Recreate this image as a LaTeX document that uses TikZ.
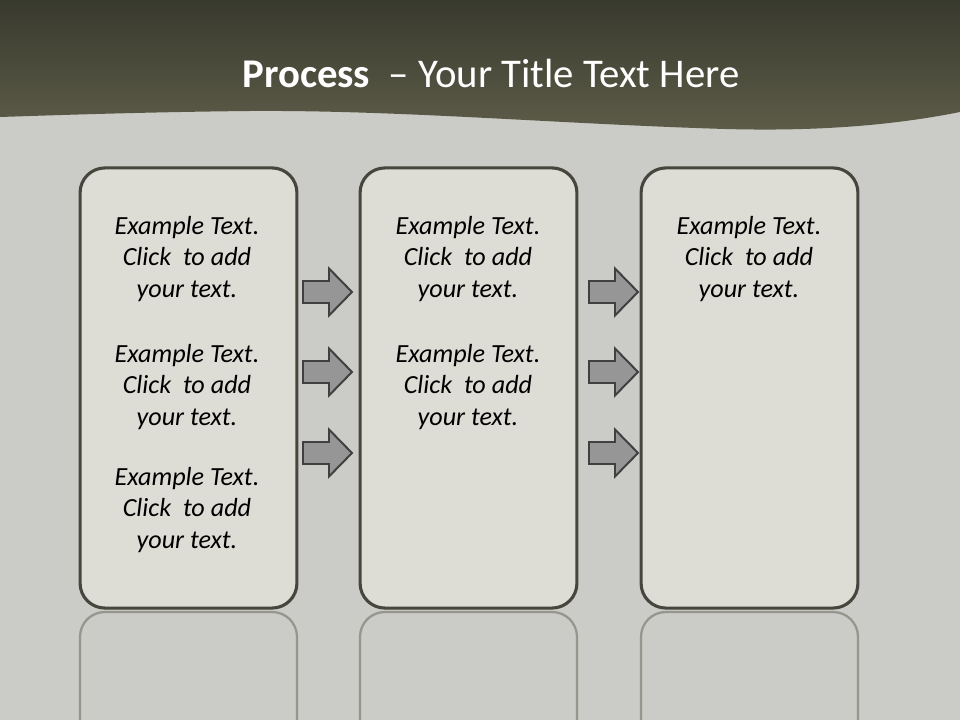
\documentclass[tikz,border=0pt]{standalone}
\usepackage{fontspec}
\setmainfont{Carlito}
\definecolor{bgGray}{HTML}{CBCBC7}
\definecolor{headTop}{HTML}{393A2E}
\definecolor{headBot}{HTML}{5D5C49}
\definecolor{boxFill}{HTML}{DDDCD5}
\definecolor{boxLine}{HTML}{46463C}
\definecolor{reflLine}{HTML}{96968F}
\definecolor{arrowFill}{HTML}{969696}
\definecolor{arrowLine}{HTML}{404040}

\begin{document}
\begin{tikzpicture}[
    x=0.025cm,y=-0.025cm,
    stage/.style={draw=boxLine,line width=2.2pt,fill=boxFill,
      rounded corners=0.62cm,minimum width=5.42cm,minimum height=11cm,
      inner sep=0pt},
    note/.style={font=\itshape\fontsize{18.6}{22.7}\selectfont,align=center},
    blockarrow/.style={draw=arrowLine,line width=1.4pt,fill=arrowFill,
      line join=miter},
    reflect/.style={draw=reflLine,line width=1.6pt,rounded corners=0.62cm}
  ]
    \useasboundingbox (0,0) rectangle (960,720);
    \fill[bgGray] (0,0) rectangle (960,720);

    % header band with wavy lower edge
    \shade[top color=headTop,bottom color=headBot]
      (0,0) -- (960,0) -- (960,112)
      .. controls (880,128) and (800,131) .. (725,129)
      .. controls (560,124) and (400,110) .. (250,111)
      .. controls (150,112) and (60,115) .. (0,117) -- cycle;
    \node[text=white,anchor=base,font=\fontsize{29}{34}\selectfont] (title)
      at (491,88) {\textbf{Process}\ \ -- Your Title Text Here};

    % reflections under the stages
    \foreach \xa in {80,360,641}
      \draw[reflect] (\xa,735) -- (\xa,612) -- (\xa+217,612) -- (\xa+217,735);

    % the three stages
    \node[stage] (s1) at (188.5,388) {};
    \node[stage] (s2) at (468.5,388) {};
    \node[stage] (s3) at (749.5,388) {};

    \node[note] (t11) at (187,259) {Example Text.\\Click\ \ to add\\your text.};
    \node[note] (t12) at (187,387) {Example Text.\\Click\ \ to add\\your text.};
    \node[note] (t13) at (187,510) {Example Text.\\Click\ \ to add\\your text.};
    \node[note] (t21) at (468,259) {Example Text.\\Click\ \ to add\\your text.};
    \node[note] (t22) at (468,387) {Example Text.\\Click\ \ to add\\your text.};
    \node[note] (t31) at (749,259) {Example Text.\\Click\ \ to add\\your text.};

    % block arrows between the stages
    \foreach \x in {303,589}
      \foreach \y in {292,372,453}
        \draw[blockarrow] (\x,\y-11) -- (\x+26,\y-11) -- (\x+26,\y-23.5)
          -- (\x+49,\y) -- (\x+26,\y+23.5) -- (\x+26,\y+11) -- (\x,\y+11)
          -- cycle;
  \end{tikzpicture}
\end{document}
